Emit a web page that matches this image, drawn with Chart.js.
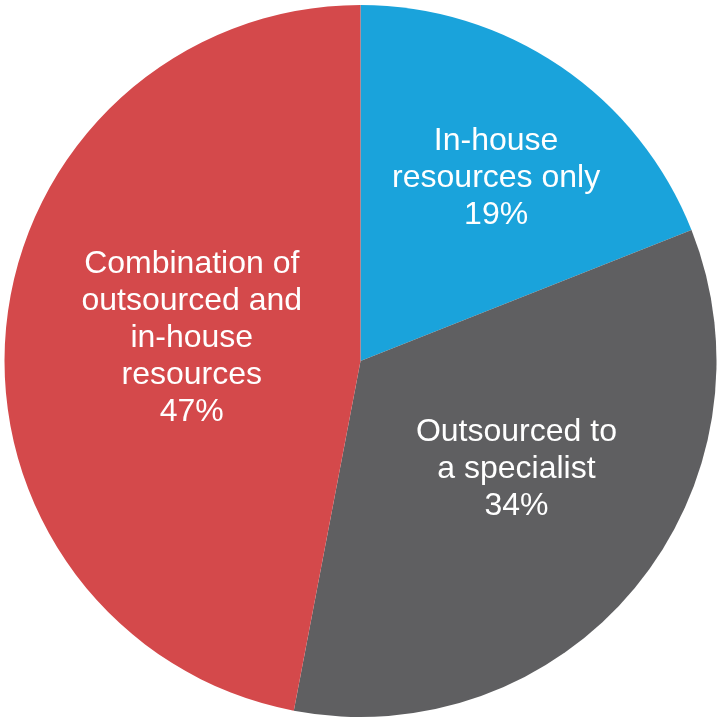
<!DOCTYPE html>
<html><head><meta charset="utf-8">
<script src="https://cdn.jsdelivr.net/npm/chart.js@4.4.0/dist/chart.umd.min.js"></script>
<style>html,body{margin:0;padding:0;background:#fff}#wrap{width:717px;height:719px;position:relative}</style>
</head><body><div id="wrap"><canvas id="c"></canvas></div>
<script>
const categories = ["In-house resources only", "Outsourced to a specialist", "Combination of outsourced and in-house resources"];
const values = [19, 34, 47];
const labelLines = [["In-house","resources only"],["Outsourced to","a specialist"],["Combination of","outsourced and","in-house","resources"]];
const colors = ["#1AA3DB","#5F5F61","#D4494B"];

const labelPlugin = {
  id:'sliceLabels',
  afterDatasetsDraw(chart, args, opts){
    const ctx = chart.ctx;
    const meta = chart.getDatasetMeta(0);
    ctx.save();
    ctx.fillStyle = '#fff';
    ctx.font = '32px "Liberation Sans", Arial, sans-serif';
    ctx.textAlign = 'center';
    ctx.textBaseline = 'middle';
    meta.data.forEach((arc, i) => {
      const R = arc.outerRadius;
      const a = opts.anchors[i];
      const cx = arc.x + a[0]*R, cy = arc.y + a[1]*R + 2;
      const lines = labelLines[i].concat([values[i] + '%']);
      const lh = 37;
      const top = cy - (lines.length-1)*lh/2;
      lines.forEach((t, k) => ctx.fillText(t, cx, top + k*lh));
    });
    ctx.restore();
  }
};

new Chart(document.getElementById('c'), {
  type:'pie',
  data:{labels:categories, datasets:[{data:values, backgroundColor:colors, borderWidth:0}]},
  options:{
    responsive:true, maintainAspectRatio:false, animation:false,
    layout:{padding:{left:4,top:5,right:0,bottom:2}},
    plugins:{legend:{display:false}, tooltip:{enabled:false},
      sliceLabels:{anchors:[[0.381,-0.519],[0.438,0.297],[-0.474,-0.070]]}}
  },
  plugins:[labelPlugin]
});
</script></body></html>
